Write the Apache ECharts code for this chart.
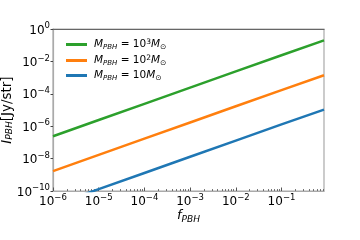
<!DOCTYPE html>
<html>
<head>
<meta charset="utf-8">
<script src="https://cdn.jsdelivr.net/npm/echarts@6/dist/echarts.min.js"></script>
<style>html,body{margin:0;padding:0;background:#fff}#c{width:360px;height:240px}</style>
</head>
<body>
<div id="c"></div>
<script>
// ---- data ----
const fPBH = [1e-6, 1e-5, 1e-4, 1e-3, 1e-2, 1e-1, 0.85];
const I_M1000 = [2.4e-7, 2.4e-6, 2.4e-5, 2.4e-4, 2.4e-3, 2.4e-2, 0.2];
const I_M100  = [1.7e-9, 1.7e-8, 1.7e-7, 1.7e-6, 1.7e-5, 1.7e-4, 1.4e-3];
const I_M10   = [1.3e-11, 1.3e-10, 1.3e-9, 1.3e-8, 1.3e-7, 1.3e-6, 1.05e-5];
const seriesNames = ['M1000', 'M100', 'M10'];
const legendExp = { M1000: '3', M100: '2', M10: '' };
const xTickExps = [-6, -5, -4, -3, -2, -1];
const yTickExps = [-10, -8, -6, -4, -2, 0];
const xMin = 1e-6, xMax = 0.85, yMin = 1e-10, yMax = 1;
const colors = ['#2ca02c', '#ff7f0e', '#1f77b4'];

const FONT = 'DejaVu Sans';
const xTickVals = xTickExps.map(e => Math.pow(10, e));
const yTickVals = yTickExps.map(e => Math.pow(10, e));
const minorVals = [];
for (let e = -6; e <= 0; e++) for (let m = 2; m <= 9; m++) {
  const v = m * Math.pow(10, e);
  if (v > xMin && v < xMax) minorVals.push(v);
}
function pair(arr) { return fPBH.map((x, i) => [x, arr[i]]); }

const tickRich = {
  b: { fontFamily: FONT, fontSize: 12, lineHeight: 15, color: '#000', verticalAlign: 'bottom' },
  e: { fontFamily: FONT, fontSize: 8.5, lineHeight: 9, color: '#000', verticalAlign: 'top' }
};
function powLabel(v) {
  const e = Math.round(Math.log10(v));
  return '{b|10}{e|' + String(e).replace('-', '\u2212') + '}';
}

const chart = echarts.init(document.getElementById('c'), null, { renderer: 'canvas' });
chart.setOption({
  animation: false,
  backgroundColor: '#fff',
  grid: { left: 53, right: 36, top: 29, bottom: 49, containLabel: false, outerBoundsMode: 'none',
          show: true, borderColor: '#aaa', borderWidth: 1.2 },
  legend: {
    data: seriesNames, orient: 'vertical', left: 61, top: 33,
    itemWidth: 21, itemHeight: 3, icon: 'rect', itemGap: 3,
    textStyle: {
      padding: [0, 0, 0, 2],
      rich: {
        m: { fontFamily: FONT, fontStyle: 'italic', fontSize: 10.5, lineHeight: 13, color: '#000' },
        n: { fontFamily: FONT, fontSize: 10.5, lineHeight: 13, color: '#000' },
        s: { fontFamily: FONT, fontStyle: 'italic', fontSize: 7, lineHeight: 6, verticalAlign: 'bottom', color: '#000' },
        o: { fontFamily: FONT, fontSize: 7.5, lineHeight: 6, verticalAlign: 'bottom', color: '#000' },
        p: { fontFamily: FONT, fontSize: 7.5, lineHeight: 6, verticalAlign: 'top', color: '#000' }
      }
    },
    formatter: function (name) {
      const ex = legendExp[name];
      return '{m|M}{s|PBH}{n| = 10}' + (ex ? '{p|' + ex + '}' : '') + '{m|M}{o|\u2299}';
    }
  },
  xAxis: [
    {
      type: 'log', min: xMin, max: xMax, logBase: 10,
      name: '{i|f}{s|PBH}', nameLocation: 'middle', nameGap: 17, nameMoveOverlap: false,
      nameTextStyle: { rich: {
        i: { fontFamily: FONT, fontStyle: 'italic', fontSize: 13, lineHeight: 16, color: '#000' },
        s: { fontFamily: FONT, fontStyle: 'italic', fontSize: 9, lineHeight: 9, verticalAlign: 'bottom', color: '#000' }
      } },
      axisLine: { show: true, onZero: false, lineStyle: { color: '#aaa', width: 1.2 } },
      axisTick: { show: true, inside: true, length: 3.5, customValues: xTickVals, lineStyle: { color: '#555', width: 1 } },
      axisLabel: { margin: 2, customValues: xTickVals, formatter: powLabel, rich: tickRich },
      splitLine: { show: false }, minorTick: { show: false }
    },
    {
      type: 'log', min: xMin, max: xMax, logBase: 10, gridIndex: 0, position: 'bottom',
      axisLine: { show: false },
      axisTick: { show: true, inside: true, length: 2, customValues: minorVals, lineStyle: { color: '#555', width: 0.8 } },
      axisLabel: { show: false }, splitLine: { show: false }
    },
    {
      type: 'log', min: xMin, max: xMax, logBase: 10, gridIndex: 0, position: 'top',
      axisLine: { show: true, lineStyle: { color: '#666', width: 1.2 } },
      axisTick: { show: false }, axisLabel: { show: false }, splitLine: { show: false }
    }
  ],
  yAxis: {
    type: 'log', min: yMin, max: yMax, logBase: 10, splitNumber: 5,
    name: '{i|I}{s|PBH}{n|[Jy/str]}', nameLocation: 'middle', nameRotate: 90, nameGap: 39, nameMoveOverlap: false,
    nameTextStyle: { rich: {
      i: { fontFamily: FONT, fontStyle: 'italic', fontSize: 13.5, lineHeight: 14, color: '#000' },
      n: { fontFamily: FONT, fontSize: 13.5, lineHeight: 14, color: '#000' },
      s: { fontFamily: FONT, fontStyle: 'italic', fontSize: 9, lineHeight: 8, verticalAlign: 'bottom', color: '#000' }
    } },
    axisLine: { show: true, onZero: false, lineStyle: { color: '#aaa', width: 1.2 } },
    axisTick: { show: true, inside: false, length: 2.5, customValues: yTickVals, lineStyle: { color: '#444', width: 1 } },
    axisLabel: { margin: 3, customValues: yTickVals, formatter: powLabel, rich: tickRich },
    splitLine: { show: false }
  },
  series: [
    { name: seriesNames[0], type: 'line', data: pair(I_M1000), showSymbol: false, clip: true,
      color: colors[0], lineStyle: { width: 2.5, color: colors[0] } },
    { name: seriesNames[1], type: 'line', data: pair(I_M100), showSymbol: false, clip: true,
      color: colors[1], lineStyle: { width: 2.5, color: colors[1] } },
    { name: seriesNames[2], type: 'line', data: pair(I_M10), showSymbol: false, clip: true,
      color: colors[2], lineStyle: { width: 2.5, color: colors[2] } }
  ]
});
</script>
</body>
</html>
